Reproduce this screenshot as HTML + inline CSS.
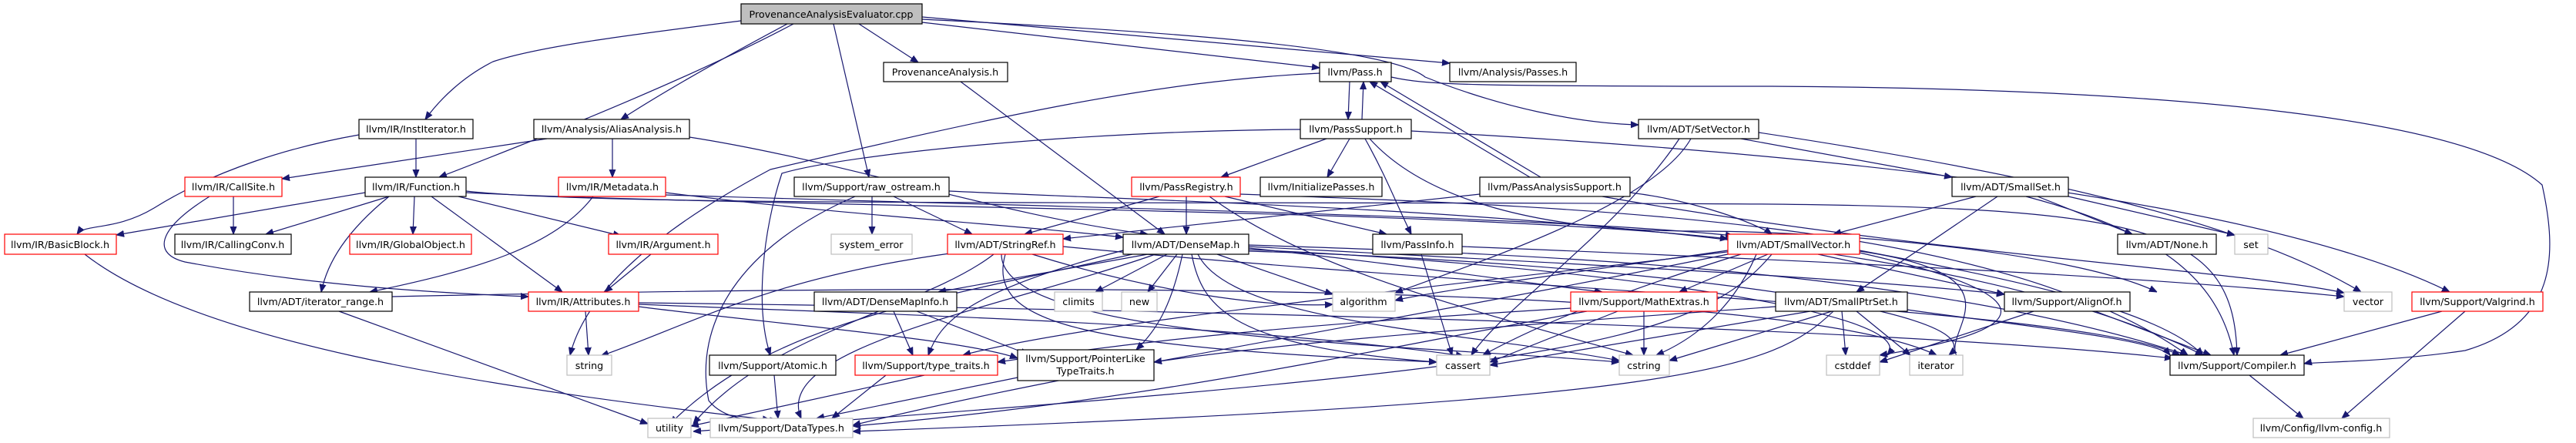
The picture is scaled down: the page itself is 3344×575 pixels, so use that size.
<!DOCTYPE html>
<html><head><meta charset="utf-8"><style>
html,body{margin:0;padding:0;background:#fff;width:3344px;height:575px;overflow:hidden}
svg text{font-family:"DejaVu Sans","Liberation Sans",sans-serif;font-size:12.7px;fill:#000;text-anchor:middle}
.n rect{fill:#fff;stroke:#000;stroke-width:1.2}
.r rect{stroke:#ff0000}
.g rect{stroke:#bfbfbf}
.e line,.e path{stroke:#191970;stroke-width:1.2;fill:none;marker-end:url(#a)}
</style></head><body>
<svg width="3344" height="575" viewBox="0 0 3344 575" xmlns="http://www.w3.org/2000/svg">
<defs><marker id="a" viewBox="0 0 10 10" refX="10" refY="5" markerWidth="10" markerHeight="10" markerUnits="userSpaceOnUse" orient="auto"><path d="M0,1 L10,5 L0,9 z" fill="#191970" stroke="#191970"/></marker></defs>
<g class="e">
<path d="M962,27 C820,45 700,60 640,80 C600,100 570,130 552,155"/>
<path d="M1030,31 C900,100 700,180 570,230"/>
<path d="M1022,31 C930,80 860,120 806,155"/>
<line x1="1082" y1="31" x2="1128" y2="230"/>
<line x1="1115" y1="31" x2="1192" y2="81"/>
<line x1="1197" y1="29" x2="1713" y2="88"/>
<line x1="1197" y1="22" x2="1882" y2="82"/>
<path d="M1197,25 C1500,40 1800,60 1850,100 C1950,140 2050,160 2127,162"/>
<line x1="1247" y1="106" x2="1512" y2="304"/>
<line x1="1752" y1="106" x2="1750" y2="155"/>
<path d="M1713,95 C1500,105 1300,150 1000,220 C850,300 760,380 740,461"/>
<path d="M1806,100 C1850,110 1900,112 2300,112 C2800,115 3200,150 3300,240 C3320,330 3320,420 3200,455 C3100,470 3000,470 2991,472"/>
<line x1="1768" y1="155" x2="1770" y2="106"/>
<line x1="1722" y1="180" x2="1585" y2="230"/>
<line x1="1752" y1="180" x2="1723" y2="230"/>
<path d="M1772,180 C1800,230 1815,270 1832,304"/>
<path d="M1688,168 C1400,170 1100,200 1015,225 C990,300 980,400 1000,461"/>
<path d="M1832,170 C2200,190 2900,240 3180,379"/>
<path d="M1778,180 C1850,260 2000,300 2200,300 C2400,300 2700,330 2800,379"/>
<line x1="2000" y1="230" x2="1792" y2="106"/>
<line x1="1986" y1="230" x2="1778" y2="106"/>
<line x1="1921" y1="252" x2="1380" y2="310"/>
<path d="M2080,255 C2500,330 2900,350 3043,380"/>
<path d="M2116,250 C2200,260 2280,290 2300,304"/>
<line x1="2260" y1="180" x2="2534" y2="230"/>
<path d="M2195,180 C2150,260 1950,330 1811,380"/>
<path d="M2180,180 C2100,300 1950,400 1910,461"/>
<path d="M2283,172 C2600,220 2900,280 3065,379"/>
<path d="M466,175 C380,190 280,220 200,270 C150,300 110,290 100,304"/>
<line x1="540" y1="180" x2="540" y2="230"/>
<line x1="710" y1="180" x2="366" y2="232"/>
<line x1="795" y1="180" x2="795" y2="230"/>
<path d="M895,178 C1100,210 1300,280 1490,304"/>
<line x1="303" y1="255" x2="303" y2="304"/>
<path d="M272,255 C200,300 200,330 240,340 C400,370 560,380 686,385"/>
<line x1="474" y1="250" x2="151" y2="305"/>
<line x1="505" y1="255" x2="345" y2="304"/>
<line x1="538" y1="255" x2="536" y2="304"/>
<line x1="595" y1="255" x2="806" y2="306"/>
<line x1="560" y1="255" x2="730" y2="379"/>
<path d="M505,255 C450,300 425,340 417,379"/>
<path d="M605,248 C800,270 1600,260 2300,265 C2800,270 2900,300 2904,461"/>
<path d="M605,250 C1000,270 1900,270 2243,310"/>
<path d="M770,255 C720,320 620,350 480,379"/>
<path d="M864,250 C1100,280 1300,290 1458,308"/>
<path d="M864,253 C1400,270 2000,280 2250,306"/>
<line x1="1132" y1="255" x2="1132" y2="304"/>
<line x1="1160" y1="255" x2="1262" y2="304"/>
<path d="M1110,255 C960,320 900,420 920,520 C940,545 980,548 1010,545"/>
<path d="M1232,248 C1700,270 2500,280 2860,461"/>
<line x1="1505" y1="255" x2="1330" y2="304"/>
<line x1="1540" y1="255" x2="1540" y2="304"/>
<line x1="1590" y1="255" x2="1800" y2="304"/>
<path d="M1610,252 C2100,270 2600,290 2840,461"/>
<path d="M1570,255 C1700,350 1900,400 2120,461"/>
<path d="M110,330 C250,440 600,500 1000,545"/>
<line x1="845" y1="330" x2="785" y2="379"/>
<path d="M1240,328 C1000,360 900,420 780,462"/>
<path d="M1340,330 C1500,380 1650,400 1730,395"/>
<path d="M1305,330 C1280,420 1400,450 1865,470"/>
<path d="M1300,330 C1300,440 1800,445 2102,470"/>
<path d="M1290,330 C1200,400 1000,430 900,550"/>
<path d="M1380,320 C2000,380 2700,400 2830,461"/>
<line x1="1490" y1="330" x2="1218" y2="379"/>
<line x1="1515" y1="330" x2="1422" y2="379"/>
<line x1="1528" y1="330" x2="1490" y2="379"/>
<line x1="1580" y1="330" x2="1730" y2="382"/>
<path d="M1547,330 C1560,400 1600,450 1865,470"/>
<path d="M1555,330 C1600,420 1900,430 2102,468"/>
<path d="M1535,330 C1520,400 1500,430 1475,454"/>
<path d="M1470,330 C1200,390 1000,420 870,550"/>
<path d="M1458,325 C1250,380 1220,420 1205,461"/>
<path d="M1621,322 C1800,340 2000,370 2080,379"/>
<path d="M1621,320 C2000,340 2400,360 2602,382"/>
<path d="M1621,318 C2000,330 2500,350 2840,461"/>
<path d="M1621,324 C2000,340 2500,400 2450,461"/>
<path d="M1621,326 C2100,340 2600,400 2530,461"/>
<path d="M1500,330 C1300,400 1000,450 1040,543"/>
<line x1="1845" y1="330" x2="1885" y2="461"/>
<path d="M1898,320 C2400,340 2800,360 3043,385"/>
<line x1="2360" y1="330" x2="2602" y2="382"/>
<line x1="2295" y1="330" x2="2180" y2="379"/>
<path d="M2250,326 C1800,380 1400,420 1250,461"/>
<path d="M2260,330 C2100,380 2000,420 1925,461"/>
<path d="M2280,330 C2250,400 2200,440 2150,461"/>
<path d="M2243,325 C2000,360 1850,380 1811,390"/>
<path d="M2414,325 C2600,360 2800,400 2860,461"/>
<path d="M2414,328 C2600,370 2700,420 2440,461"/>
<path d="M2414,326 C2650,360 2500,440 2548,470"/>
<path d="M2243,330 C1800,420 1400,480 1107,552"/>
<path d="M2300,330 C2200,450 2000,480 900,560"/>
<line x1="2565" y1="255" x2="2380" y2="304"/>
<line x1="2593" y1="255" x2="2410" y2="379"/>
<line x1="2645" y1="255" x2="2768" y2="304"/>
<line x1="2685" y1="255" x2="2901" y2="305"/>
<path d="M2630,255 C2800,300 2880,360 2900,461"/>
<line x1="440" y1="404" x2="841" y2="550"/>
<path d="M509,385 C1200,370 2300,360 2514,461"/>
<line x1="760" y1="404" x2="764" y2="461"/>
<path d="M829,395 C1200,410 1600,420 1900,462"/>
<path d="M829,393 C1400,400 2400,420 2820,465"/>
<path d="M829,398 C1000,420 1250,440 1321,465"/>
<line x1="1160" y1="404" x2="1185" y2="461"/>
<line x1="1190" y1="404" x2="1335" y2="460"/>
<line x1="2134" y1="404" x2="2134" y2="461"/>
<line x1="2100" y1="404" x2="1934" y2="470"/>
<path d="M2039,400 C1700,420 1500,440 1295,470"/>
<path d="M2060,404 C1800,450 1500,520 1107,553"/>
<line x1="2391" y1="404" x2="2396" y2="461"/>
<line x1="2410" y1="404" x2="2480" y2="461"/>
<line x1="2378" y1="404" x2="2167" y2="468"/>
<line x1="2350" y1="404" x2="1934" y2="474"/>
<path d="M2305,398 C2000,420 1700,440 1498,470"/>
<path d="M2476,402 C2600,420 2800,440 2817,461"/>
<path d="M2380,404 C2300,480 2200,520 1107,560"/>
<line x1="2640" y1="404" x2="2440" y2="470"/>
<line x1="2720" y1="404" x2="2870" y2="461"/>
<line x1="3170" y1="404" x2="2960" y2="461"/>
<line x1="3200" y1="404" x2="3040" y2="543"/>
<line x1="1200" y1="487" x2="897" y2="553"/>
<line x1="1150" y1="487" x2="1080" y2="543"/>
<line x1="1321" y1="490" x2="1060" y2="543"/>
<line x1="1005" y1="487" x2="1010" y2="543"/>
<line x1="2920" y1="487" x2="2990" y2="543"/>
</g>
<g class="n g"><rect x="962" y="5" width="235" height="26" style="fill:#bfbfbf;stroke:#000"/><text x="1079" y="23">ProvenanceAnalysisEvaluator.cpp</text></g>
<g class="n"><rect x="1147" y="81" width="161" height="25"/><text x="1227" y="98">ProvenanceAnalysis.h</text></g>
<g class="n"><rect x="1713" y="81" width="93" height="25"/><text x="1759" y="98">llvm/Pass.h</text></g>
<g class="n"><rect x="1882" y="81" width="164" height="25"/><text x="1964" y="98">llvm/Analysis/Passes.h</text></g>
<g class="n"><rect x="466" y="155" width="148" height="25"/><text x="540" y="172">llvm/IR/InstIterator.h</text></g>
<g class="n"><rect x="693" y="155" width="202" height="25"/><text x="794" y="172">llvm/Analysis/AliasAnalysis.h</text></g>
<g class="n"><rect x="1688" y="155" width="144" height="25"/><text x="1760" y="172">llvm/PassSupport.h</text></g>
<g class="n"><rect x="2127" y="155" width="156" height="25"/><text x="2205" y="172">llvm/ADT/SetVector.h</text></g>
<g class="n r"><rect x="240" y="230" width="126" height="25"/><text x="303" y="247">llvm/IR/CallSite.h</text></g>
<g class="n"><rect x="474" y="230" width="131" height="25"/><text x="540" y="247">llvm/IR/Function.h</text></g>
<g class="n r"><rect x="725" y="230" width="139" height="25"/><text x="795" y="247">llvm/IR/Metadata.h</text></g>
<g class="n"><rect x="1031" y="230" width="201" height="25"/><text x="1131" y="247">llvm/Support/raw_ostream.h</text></g>
<g class="n r"><rect x="1469" y="230" width="141" height="25"/><text x="1540" y="247">llvm/PassRegistry.h</text></g>
<g class="n"><rect x="1636" y="230" width="158" height="25"/><text x="1715" y="247">llvm/InitializePasses.h</text></g>
<g class="n"><rect x="1921" y="230" width="195" height="25"/><text x="2018" y="247">llvm/PassAnalysisSupport.h</text></g>
<g class="n"><rect x="2534" y="230" width="151" height="25"/><text x="2610" y="247">llvm/ADT/SmallSet.h</text></g>
<g class="n r"><rect x="6" y="304" width="145" height="26"/><text x="78" y="322">llvm/IR/BasicBlock.h</text></g>
<g class="n"><rect x="227" y="304" width="151" height="26"/><text x="302" y="322">llvm/IR/CallingConv.h</text></g>
<g class="n r"><rect x="454" y="304" width="158" height="26"/><text x="533" y="322">llvm/IR/GlobalObject.h</text></g>
<g class="n r"><rect x="790" y="304" width="142" height="26"/><text x="861" y="322">llvm/IR/Argument.h</text></g>
<g class="n g"><rect x="1079" y="304" width="105" height="26"/><text x="1131" y="322">system_error</text></g>
<g class="n r"><rect x="1230" y="304" width="150" height="26"/><text x="1305" y="322">llvm/ADT/StringRef.h</text></g>
<g class="n"><rect x="1458" y="304" width="163" height="26"/><text x="1539" y="322">llvm/ADT/DenseMap.h</text></g>
<g class="n"><rect x="1782" y="304" width="116" height="26"/><text x="1840" y="322">llvm/PassInfo.h</text></g>
<g class="n r"><rect x="2243" y="304" width="171" height="26"/><text x="2328" y="322">llvm/ADT/SmallVector.h</text></g>
<g class="n"><rect x="2749" y="304" width="128" height="26"/><text x="2813" y="322">llvm/ADT/None.h</text></g>
<g class="n g"><rect x="2901" y="304" width="43" height="26"/><text x="2922" y="322">set</text></g>
<g class="n"><rect x="324" y="379" width="185" height="25"/><text x="416" y="396">llvm/ADT/iterator_range.h</text></g>
<g class="n r"><rect x="686" y="379" width="143" height="25"/><text x="757" y="396">llvm/IR/Attributes.h</text></g>
<g class="n"><rect x="1057" y="379" width="185" height="25"/><text x="1149" y="396">llvm/ADT/DenseMapInfo.h</text></g>
<g class="n g"><rect x="1369" y="379" width="62" height="25"/><text x="1400" y="396">climits</text></g>
<g class="n g"><rect x="1456" y="379" width="46" height="25"/><text x="1479" y="396">new</text></g>
<g class="n g"><rect x="1730" y="379" width="81" height="25"/><text x="1770" y="396">algorithm</text></g>
<g class="n r"><rect x="2039" y="379" width="190" height="25"/><text x="2134" y="396">llvm/Support/MathExtras.h</text></g>
<g class="n"><rect x="2305" y="379" width="171" height="25"/><text x="2390" y="396">llvm/ADT/SmallPtrSet.h</text></g>
<g class="n"><rect x="2602" y="379" width="163" height="25"/><text x="2683" y="396">llvm/Support/AlignOf.h</text></g>
<g class="n g"><rect x="3043" y="379" width="62" height="25"/><text x="3074" y="396">vector</text></g>
<g class="n r"><rect x="3131" y="379" width="170" height="25"/><text x="3216" y="396">llvm/Support/Valgrind.h</text></g>
<g class="n g"><rect x="736" y="461" width="58" height="26"/><text x="765" y="479">string</text></g>
<g class="n"><rect x="921" y="461" width="164" height="26"/><text x="1003" y="479">llvm/Support/Atomic.h</text></g>
<g class="n r"><rect x="1110" y="461" width="185" height="26"/><text x="1202" y="479">llvm/Support/type_traits.h</text></g>
<g class="n"><rect x="1321" y="454" width="177" height="40"/><text x="1409" y="470">llvm/Support/PointerLike</text><text x="1409" y="486">TypeTraits.h</text></g>
<g class="n g"><rect x="1865" y="461" width="69" height="26"/><text x="1899" y="479">cassert</text></g>
<g class="n g"><rect x="2102" y="461" width="65" height="26"/><text x="2134" y="479">cstring</text></g>
<g class="n g"><rect x="2371" y="461" width="69" height="26"/><text x="2405" y="479">cstddef</text></g>
<g class="n g"><rect x="2479" y="461" width="69" height="26"/><text x="2513" y="479">iterator</text></g>
<g class="n"><rect x="2817" y="461" width="174" height="26"/><text x="2904" y="479">llvm/Support/Compiler.h</text></g>
<g class="n g"><rect x="841" y="543" width="56" height="25"/><text x="869" y="560">utility</text></g>
<g class="n g"><rect x="922" y="543" width="185" height="25"/><text x="1014" y="560">llvm/Support/DataTypes.h</text></g>
<g class="n g"><rect x="2925" y="543" width="177" height="25"/><text x="3013" y="560">llvm/Config/llvm-config.h</text></g>
</svg>
</body></html>
